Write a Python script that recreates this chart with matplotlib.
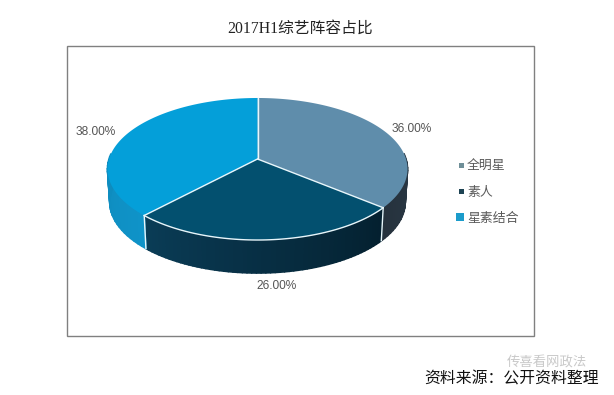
import matplotlib
matplotlib.use('Agg')
import matplotlib.pyplot as plt
import numpy as np
from matplotlib.patches import Polygon, Rectangle

title = '2017H1综艺阵容占比'
labels = ['全明星', '素人', '星素结合']
values = [36.0, 26.0, 38.0]
top_colors = ['#5f8dab', '#03506f', '#049fd9']
side_start = ['#33495a', '#04202f', '#0f93c8']
side_end = ['#26323d', '#0a3c56', '#0d80ad']
source = '资料来源：公开资料整理'
watermark = '传喜看网政法'

CJK_SERIF = ['Liberation Serif', 'Noto Sans CJK SC']
CJK = ['Noto Sans CJK SC', 'DejaVu Sans']

# pie position in pixels, k gives the tilt perspective
cx, cy, rx, ry, k = 257.5, 159, 148.5, 69.6, 0.1408
depth = 33


def project(theta, r=1.0, drop=0.0, shrink=1.0):
    # theta is clockwise from the top of the pie
    s, c = r * np.sin(theta), r * np.cos(theta)
    w = 1 + k * c
    return cx + shrink * rx * s / w, cy - ry * c / w + drop


def mix(c1, c2, t):
    a = np.array(matplotlib.colors.to_rgb(c1))
    b = np.array(matplotlib.colors.to_rgb(c2))
    return tuple(a + (b - a) * t)


fig = plt.figure(figsize=(6.14, 3.95), dpi=100)
ax = fig.add_axes([0, 0, 1, 1])
ax.set_xlim(0, 614)
ax.set_ylim(395, 0)
ax.axis('off')

ax.text(300, 29, title, family=CJK_SERIF, fontsize=11.3, color='#222222', ha='center', va='center')
ax.add_patch(Rectangle((66.5, 45.5), 467.5, 290, fc='white', ec='#808080', lw=1.0))

edges = np.radians(np.cumsum([0] + values) * 3.6)

# sides first, only the part facing the viewer shows
for i in range(3):
    a, b = edges[i], edges[i + 1]
    ts = np.linspace(a, b, 60)
    for j in range(len(ts) - 1):
        t0, t1 = ts[j], ts[j + 1]
        if np.cos((t0 + t1) / 2) > 0.08:
            continue
        x0, y0 = project(t0)
        x1, y1 = project(t1)
        x2, y2 = project(t1, drop=depth, shrink=0.985)
        x3, y3 = project(t0, drop=depth, shrink=0.985)
        col = mix(side_start[i], side_end[i], j / (len(ts) - 2))
        ax.add_patch(Polygon([(x0, y0), (x1, y1), (x2, y2), (x3, y3)], fc=col, ec=col, lw=1.2, joinstyle='round'))

# top faces
for i in range(3):
    ts = np.linspace(edges[i], edges[i + 1], 120)
    xs, ys = project(ts)
    pts = [(cx, cy)] + list(zip(xs, ys))
    ax.add_patch(Polygon(pts, fc=top_colors[i], ec='none'))

# white seams
for i in range(3):
    x, y = project(edges[i])
    ax.plot([cx, x], [cy, y], color='#e8f6fb', lw=1.0, solid_capstyle='round')
    if np.cos(edges[i]) < 0:
        x2, y2 = project(edges[i], drop=depth, shrink=0.985)
        ax.plot([x, x2], [y, y2], color='#e8f6fb', lw=1.0)
ts = np.linspace(edges[1], edges[2], 80)
xs, ys = project(ts)
ax.plot(xs, ys, color='#e8f6fb', lw=1.0)

# percent labels
label_pos = [(412, 129), (277, 286), (96, 132)]
for v, (x, y) in zip(values, label_pos):
    ax.text(x, y, f'{v:.2f}%', family='Liberation Sans', fontsize=8.6, color='#555555', ha='center', va='center')

# legend
legend_y = [165, 191, 217]
legend_size = [5, 5, 8]
legend_colors = ['#6f8f98', '#1d4353', '#1b9ccb']
for name, y, size, col in zip(labels, legend_y, legend_size, legend_colors):
    ax.add_patch(Rectangle((463.5 - size, y - size / 2), size, size, fc=col, ec='none'))
    ax.text(467, y + 1.5, name, family=CJK, fontsize=9.3, color='#5a5a5a', ha='left', va='center')

ax.text(507, 363, watermark, family=CJK, fontsize=9.6, color='#c9c9c9', ha='left', va='center')
ax.text(424, 379, source, family=CJK, fontsize=11.4, color='#111111', ha='left', va='center')

fig.savefig('out.png', dpi=100)
